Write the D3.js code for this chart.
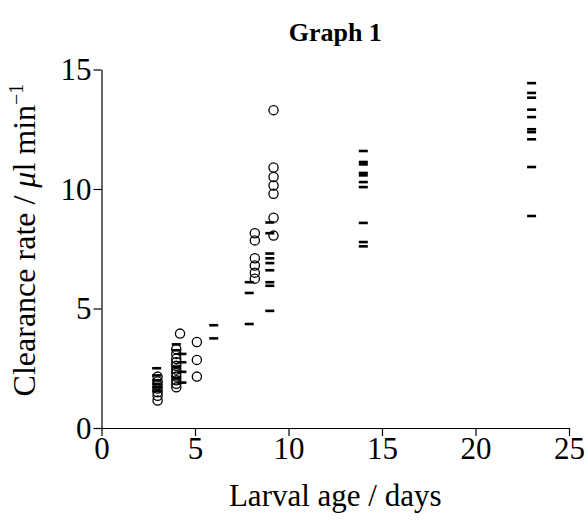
<!DOCTYPE html>
<html><head><meta charset="utf-8">
<script src="https://cdn.jsdelivr.net/npm/d3@7"></script>
<style>
body{margin:0;background:#fff;}
svg{display:block;font-family:"Liberation Serif","Times New Roman",serif;}
</style></head>
<body>
<svg id="chart" width="588" height="523"></svg>
<script>
// Larval age (days) and clearance rate (µl/min)
const circleAge = [3,3,3,3,3,3,3, 4,4,4,4,4,4,4,4,4,4,4, 4.2, 5.1,5.1,5.1, 8.2,8.2,8.2,8.2,8.2,8.2, 9.2,9.2,9.2,9.2,9.2,9.2,9.2];
const circleRate = [2.15,1.95,1.8,1.65,1.5,1.35,1.15, 3.3,3.1,2.9,2.75,2.6,2.45,2.3,2.15,2.0,1.85,1.7, 3.95, 3.6,2.85,2.15, 8.15,7.85,7.1,6.8,6.5,6.25, 13.3,10.9,10.5,10.15,9.8,8.8,8.05];
const dashAge = [2.95,2.95,2.95,2.95,2.95,2.95, 4,4,4,4, 4.3,4.3,4.3,4.3, 6,6, 7.9,7.9,7.9, 9,9,9,9,9,9,9,9,9,
  14,14,14,14,14,14,14,14,14,14, 23,23,23,23,23,23,23,23,23,23];
const dashRate = [2.5,2.2,2.0,1.85,1.7,1.55, 3.5,3.25,2.55,2.1, 3.1,2.75,2.35,1.9, 4.3,3.75, 6.1,5.65,4.35, 8.6,8.15,7.3,7.1,6.9,6.6,6.1,5.95,4.9,
  11.59,11.13,11.03,10.67,10.57,10.29,10.08,8.58,7.78,7.6, 14.43,14.02,13.82,13.32,13.01,12.5,12.38,12.08,10.92,8.87];
const xTicks = [0,5,10,15,20,25];
const yTicks = [0,5,10,15];
const title = "Graph 1";
const xTitle = "Larval age / days";

const svg = d3.select("#chart");
const L = 101.5, R = 569, T = 69.5, B = 428;
const x = d3.scaleLinear().domain([0,25]).range([L,R]);
const y = d3.scaleLinear().domain([0,15]).range([B,T]);

const xAxis = svg.append("g").attr("transform",`translate(0,${B})`)
  .call(d3.axisBottom(x).tickValues(xTicks).tickSize(8).tickSizeOuter(0).tickPadding(1));
const yAxis = svg.append("g").attr("transform",`translate(${L},0)`)
  .call(d3.axisLeft(y).tickValues(yTicks).tickSize(8).tickSizeOuter(0).tickPadding(2));
[xAxis,yAxis].forEach(g=>{
  g.selectAll("path,line").attr("stroke","#000").attr("stroke-width",1.2);
  g.selectAll("text").attr("font-family","Liberation Serif").attr("font-size",31).attr("fill","#000");
});
xAxis.selectAll("text").attr("dy","0.72em");
yAxis.selectAll("text").attr("dy","0.33em");

// dashes
svg.append("g").selectAll("rect").data(dashAge).join("rect")
  .attr("x",(d)=>x(d)-4.5).attr("y",(d,i)=>y(dashRate[i])-1.3)
  .attr("width",9).attr("height",2.6).attr("fill","#000");
// circles
svg.append("g").selectAll("circle").data(circleAge).join("circle")
  .attr("cx",d=>x(d)).attr("cy",(d,i)=>y(circleRate[i]))
  .attr("r",4.6).attr("fill","none").attr("stroke","#000").attr("stroke-width",1.3);

svg.append("text").attr("x",(L+R)/2).attr("y",41).attr("text-anchor","middle")
  .attr("font-size",26).attr("font-weight","bold").text(title);
svg.append("text").attr("x",(L+R)/2).attr("y",506).attr("text-anchor","middle")
  .attr("font-size",31).text(xTitle);
const yl = svg.append("text").attr("transform",`translate(35,240) rotate(-90)`)
  .attr("text-anchor","middle").attr("font-size",32);
yl.append("tspan").text("Clearance rate / ");
yl.append("tspan").attr("font-style","italic").text("μ");
yl.append("tspan").text("l min");
yl.append("tspan").attr("dy",-12).attr("font-size",20).text("−1");
</script>
</body></html>
